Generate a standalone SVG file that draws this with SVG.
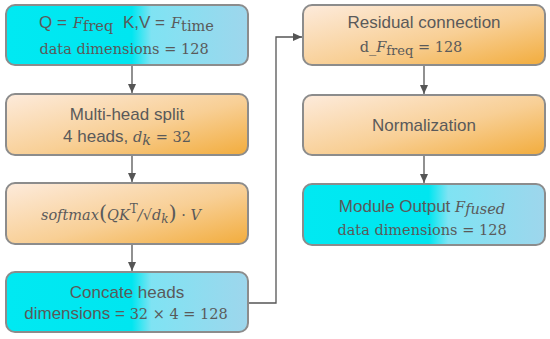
<svg xmlns="http://www.w3.org/2000/svg" width="550" height="339" viewBox="0 0 550 339">
<defs>
<linearGradient id="cyan" x1="0" y1="0" x2="1" y2="0">
<stop offset="0" stop-color="#00E9F2"/>
<stop offset="0.52" stop-color="#00E6F0"/>
<stop offset="0.6" stop-color="#7FE3F3"/>
<stop offset="1" stop-color="#9ED6EC"/>
</linearGradient>
<linearGradient id="orange" x1="0" y1="0" x2="1" y2="1">
<stop offset="0" stop-color="#FDEBDC"/>
<stop offset="0.55" stop-color="#F8CF95"/>
<stop offset="1" stop-color="#F2AC3C"/>
</linearGradient>
<marker id="ah" markerWidth="10" markerHeight="10" refX="9" refY="5" orient="auto" markerUnits="userSpaceOnUse">
<path d="M0,1 L9,5 L0,9 Z" fill="#555"/>
</marker>
</defs>
<style>
.box{stroke:#8C8C8C;stroke-width:2}
.c{fill:url(#cyan)}
.o{fill:url(#orange)}
.t{font-family:"Liberation Sans",Arial,sans-serif;font-size:17px;fill:#5A5A5A;text-anchor:middle}
.s{font-family:"Liberation Sans",Arial,sans-serif;font-size:17px;fill:#5A5A5A}
.m{font-family:"DejaVu Serif","Liberation Serif",serif;font-size:14.5px;fill:#5A5A5A}
.i{font-style:italic}
.conn{stroke:#555;stroke-width:1.3;fill:none;marker-end:url(#ah)}
</style>
<g id="connectors">
<line class="conn" x1="132" y1="66" x2="132" y2="93"/>
<line class="conn" x1="132" y1="156" x2="132" y2="182"/>
<line class="conn" x1="132" y1="245" x2="132" y2="271"/>
<polyline class="conn" points="248,303 276,303 276,37 302,37"/>
<line class="conn" x1="424" y1="66" x2="424" y2="94"/>
<line class="conn" x1="424" y1="156" x2="424" y2="183"/>
</g>
<g id="n1">
<rect class="box c" x="6" y="5" width="242" height="60" rx="9"/>
<text class="s" x="39" y="28">Q = <tspan class="m i" x="73" font-size="16">F</tspan><tspan class="m" font-size="12" dy="3">freq</tspan><tspan x="123" dy="-3">K,V = </tspan><tspan class="m i" x="171" font-size="16">F</tspan><tspan class="m" font-size="12" dy="3">time</tspan></text>
<text class="m" x="124" y="54" text-anchor="middle">data dimensions = 128</text>
</g>
<g id="n2">
<rect class="box o" x="6" y="94" width="242" height="61" rx="9"/>
<text class="t" x="127" y="120">Multi-head split</text>
<text class="t" x="127" y="142">4 heads, <tspan class="m i">d</tspan><tspan class="m i" font-size="11" dy="3">k</tspan><tspan class="m" dy="-3"> = 32</tspan></text>
</g>
<g id="n3">
<rect class="box o" x="6" y="183" width="242" height="61" rx="9"/>
<text class="m" x="121" y="220" text-anchor="middle" font-size="16"><tspan class="i">softmax</tspan><tspan font-size="21">(</tspan><tspan class="i">QK</tspan><tspan font-size="12" dy="-7">T</tspan><tspan dy="7" class="i">/</tspan>√<tspan class="i">d</tspan><tspan class="i" font-size="12" dy="3">k</tspan><tspan font-size="21" dy="-3">)</tspan> · <tspan class="i">V</tspan></text>
</g>
<g id="n4">
<rect class="box c" x="6" y="272" width="242" height="60" rx="9"/>
<text class="t" x="127" y="298">Concate heads</text>
<text class="t" x="126" y="319">dimensions = <tspan class="m">32 × 4 = 128</tspan></text>
</g>
<g id="n5">
<rect class="box o" x="303" y="5" width="242" height="60" rx="9"/>
<text class="t" x="424" y="28">Residual connection</text>
<text class="m" x="411" y="52" text-anchor="middle" font-size="16.5">d_<tspan class="i">F</tspan><tspan font-size="13" dy="3">freq</tspan><tspan dy="-3"> = 128</tspan></text>
</g>
<g id="n6">
<rect class="box o" x="303" y="95" width="242" height="60" rx="9"/>
<text class="t" x="424" y="131">Normalization</text>
</g>
<g id="n7">
<rect class="box c" x="303" y="184" width="242" height="61" rx="9"/>
<text class="t" x="422" y="212">Module Output <tspan class="m i">F</tspan><tspan class="m i" font-size="11" dy="2">fused</tspan></text>
<text class="m" x="422" y="235" text-anchor="middle">data dimensions = 128</text>
</g>
</svg>
